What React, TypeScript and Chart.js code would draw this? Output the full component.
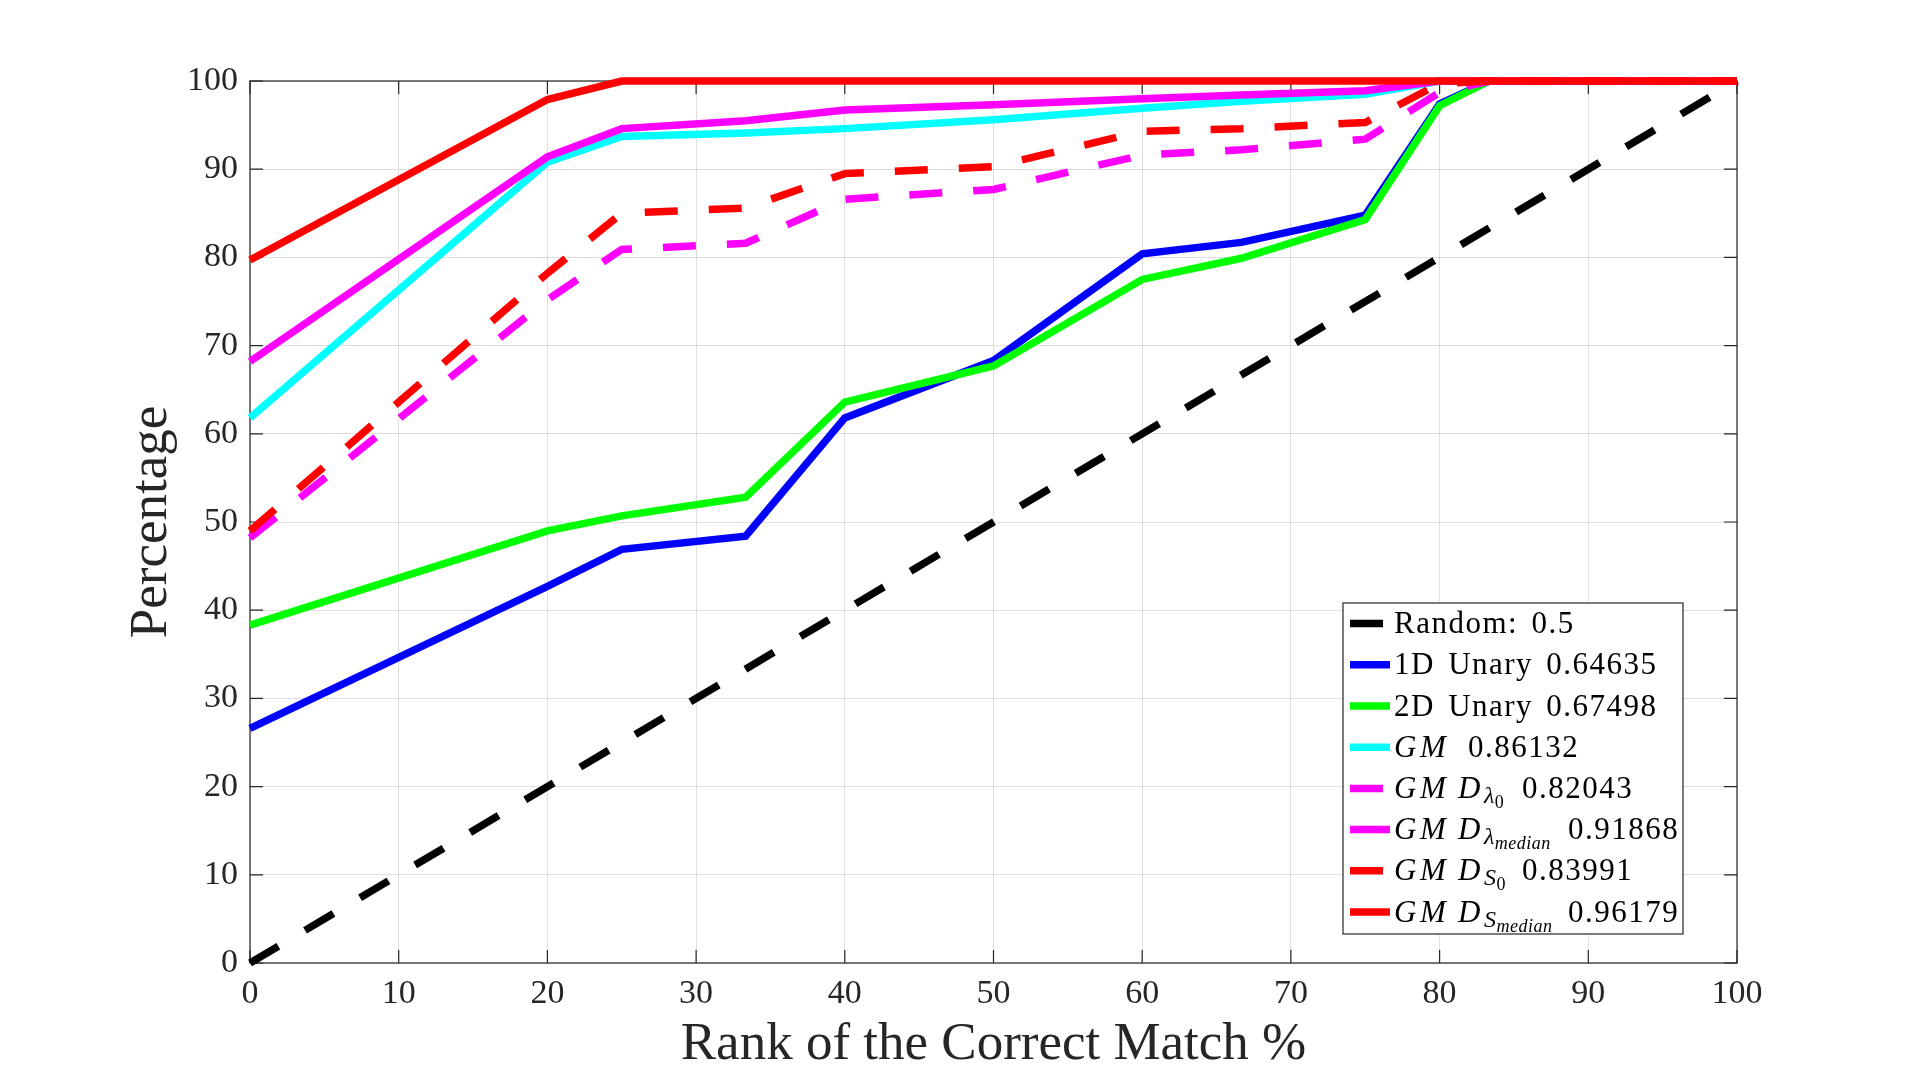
import React, { useEffect, useRef } from 'react';
import { Chart, registerables } from 'chart.js';

Chart.register(...registerables);

// ---------- data ----------
const xRank = [0, 20, 25, 33.33, 40, 50, 60, 66.67, 75, 80, 83.33, 100];
const randomX = [0, 100];
const randomY = [0, 100];
const unary1D = [26.6, 42.7, 46.9, 48.4, 61.8, 68.3, 80.4, 81.7, 84.8, 97.4, 100, 100];
const unary2D = [38.3, 49.0, 50.7, 52.8, 63.6, 67.7, 77.5, 79.9, 84.3, 97.2, 100, 100];
const gm = [61.8, 90.8, 93.7, 94.1, 94.6, 95.6, 96.9, 97.7, 98.5, 100, 100, 100];
const gmdLambda0 = [48.2, 75.2, 80.9, 81.6, 86.6, 87.7, 91.6, 92.2, 93.4, 98.7, 100, 100];
const gmdLambdaMedian = [68.2, 91.4, 94.6, 95.5, 96.7, 97.3, 98.0, 98.4, 98.9, 100, 100, 100];
const gmdS0 = [49.0, 78.2, 85.0, 85.6, 89.5, 90.3, 94.3, 94.6, 95.3, 99.7, 100, 100];
const gmdSMedian = [79.7, 97.9, 100, 100, 100, 100, 100, 100, 100, 100, 100, 100];

const xTickValues = [0, 10, 20, 30, 40, 50, 60, 70, 80, 90, 100];
const yTickValues = [0, 10, 20, 30, 40, 50, 60, 70, 80, 90, 100];

const xTitle = 'Rank of the Correct Match %';
const yTitle = 'Percentage';

// ---------- styles ----------
const FONT = '"Liberation Serif", "Times New Roman", Times, serif';
const AXIS_COLOR = '#262626';
const GRID_COLOR = 'rgba(38,38,38,0.15)';
const LINE_W = 7.5;
const DASH = [33, 31];

type Seg = { t: string; it?: boolean; lvl?: number; at?: number };

const series: { label: string; xs: number[]; ys: number[]; color: string; dash: number[]; legend: Seg[] }[] = [
  { label: 'Random: 0.5', xs: randomX, ys: randomY, color: '#000000', dash: DASH, legend: [{ t: 'Random: 0.5' }] },
  { label: '1D Unary 0.64635', xs: xRank, ys: unary1D, color: '#0000ff', dash: [], legend: [{ t: '1D Unary 0.64635' }] },
  { label: '2D Unary 0.67498', xs: xRank, ys: unary2D, color: '#00ff00', dash: [], legend: [{ t: '2D Unary 0.67498' }] },
  {
    label: 'GM 0.86132', xs: xRank, ys: gm, color: '#00ffff', dash: [],
    legend: [{ t: 'GM', it: true }, { t: '0.86132', at: 74 }],
  },
  {
    label: 'GMD λ0 0.82043', xs: xRank, ys: gmdLambda0, color: '#ff00ff', dash: DASH,
    legend: [{ t: 'GM', it: true }, { t: 'D', it: true, at: 64 }, { t: 'λ', it: true, lvl: 1 }, { t: '0', lvl: 2 }, { t: '0.82043', at: 128 }],
  },
  {
    label: 'GMD λmedian 0.91868', xs: xRank, ys: gmdLambdaMedian, color: '#ff00ff', dash: [],
    legend: [{ t: 'GM', it: true }, { t: 'D', it: true, at: 64 }, { t: 'λ', it: true, lvl: 1 }, { t: 'median', it: true, lvl: 2 }, { t: '0.91868', at: 174 }],
  },
  {
    label: 'GMD S0 0.83991', xs: xRank, ys: gmdS0, color: '#ff0000', dash: DASH,
    legend: [{ t: 'GM', it: true }, { t: 'D', it: true, at: 64 }, { t: 'S', it: true, lvl: 1 }, { t: '0', lvl: 2 }, { t: '0.83991', at: 128 }],
  },
  {
    label: 'GMD Smedian 0.96179', xs: xRank, ys: gmdSMedian, color: '#ff0000', dash: [],
    legend: [{ t: 'GM', it: true }, { t: 'D', it: true, at: 64 }, { t: 'S', it: true, lvl: 1 }, { t: 'median', it: true, lvl: 2 }, { t: '0.96179', at: 174 }],
  },
];

const TICK_LEN = 13;

const axesBoxPlugin = {
  id: 'axesBox',
  beforeDatasetsDraw(chart: any) {
    const { ctx, chartArea } = chart;
    const { left, right, top, bottom } = chartArea;
    const xs = chart.scales.x;
    const ys = chart.scales.y;
    ctx.save();
    ctx.strokeStyle = AXIS_COLOR;
    ctx.lineWidth = 1.2;
    ctx.setLineDash([]);
    ctx.beginPath();
    xs.ticks.forEach((t: any) => {
      const px = xs.getPixelForValue(t.value);
      ctx.moveTo(px, bottom);
      ctx.lineTo(px, bottom - TICK_LEN);
      ctx.moveTo(px, top);
      ctx.lineTo(px, top + TICK_LEN);
    });
    ys.ticks.forEach((t: any) => {
      const py = ys.getPixelForValue(t.value);
      ctx.moveTo(left, py);
      ctx.lineTo(left + TICK_LEN, py);
      ctx.moveTo(right, py);
      ctx.lineTo(right - TICK_LEN, py);
    });
    ctx.stroke();
    ctx.strokeRect(left, top, right - left, bottom - top);
    ctx.restore();
  },
};

const legendPlugin = {
  id: 'matlabLegend',
  afterDraw(chart: any) {
    const ctx = chart.ctx;
    const bx = 1343, by = 603, bw = 340, bh = 331;
    ctx.save();
    ctx.fillStyle = '#ffffff';
    ctx.fillRect(bx, by, bw, bh);
    ctx.strokeStyle = AXIS_COLOR;
    ctx.lineWidth = 1.2;
    ctx.setLineDash([]);
    ctx.strokeRect(bx, by, bw, bh);
    const rowH = 41.2;
    const textX = 1394;
    series.forEach((s, i) => {
      const yc = by + 20.6 + i * rowH;
      ctx.strokeStyle = s.color;
      ctx.lineWidth = LINE_W;
      ctx.lineCap = 'butt';
      ctx.setLineDash(s.dash);
      ctx.beginPath();
      ctx.moveTo(1350, yc);
      ctx.lineTo(1390, yc);
      ctx.stroke();
      ctx.setLineDash([]);
      const base = yc + 9.5;
      let cx = textX;
      ctx.fillStyle = '#000000';
      ctx.textBaseline = 'alphabetic';
      ctx.textAlign = 'left';
      s.legend.forEach((seg) => {
        const lvl = seg.lvl || 0;
        const size = lvl === 2 ? 18 : lvl === 1 ? 24 : 31;
        const dy = lvl === 2 ? 10 : lvl === 1 ? 5 : 0;
        ctx.font = `${seg.it ? 'italic ' : ''}${size}px ${FONT}`;
        (ctx as any).letterSpacing = lvl ? '0.5px' : seg.it ? '3.5px' : '1.5px';
        (ctx as any).wordSpacing = '4px';
        if (seg.at !== undefined) cx = textX + seg.at;
        ctx.fillText(seg.t, cx, base + dy);
        cx += ctx.measureText(seg.t).width;
      });
    });
    ctx.restore();
  },
};

export default function App() {
  const canvasRef = useRef<HTMLCanvasElement | null>(null);

  useEffect(() => {
    document.body.style.margin = '0';
    document.body.style.overflow = 'hidden';
    const canvas = canvasRef.current;
    if (!canvas) return;
    const n = series.length;
    const chart = new Chart(canvas, {
      type: 'line',
      data: {
        datasets: series.map((s, i) => ({
          label: s.label,
          data: s.xs.map((x, j) => ({ x, y: s.ys[j] })),
          borderColor: s.color,
          backgroundColor: s.color,
          borderWidth: LINE_W,
          borderDash: s.dash,
          borderCapStyle: 'butt',
          borderJoinStyle: 'miter',
          pointRadius: 0,
          pointHoverRadius: 0,
          tension: 0,
          fill: false,
          clip: false,
          order: n - 1 - i,
        })) as any,
      },
      options: {
        animation: false,
        responsive: false,
        devicePixelRatio: 1,
        events: [],
        layout: { padding: { top: 81, right: 183, left: 0, bottom: 0 } },
        plugins: {
          legend: { display: false },
          tooltip: { enabled: false },
        },
        scales: {
          x: {
            type: 'linear',
            min: 0,
            max: 100,
            afterBuildTicks: (scale: any) => {
              scale.ticks = xTickValues.map((v) => ({ value: v }));
            },
            afterFit: (scale: any) => {
              scale.height = 121;
            },
            grid: { color: GRID_COLOR, lineWidth: 1, drawTicks: false },
            border: { display: false },
            ticks: {
              padding: 11,
              color: AXIS_COLOR,
              font: { family: FONT, size: 34 },
              maxRotation: 0,
              autoSkip: false,
            },
            title: {
              display: true,
              text: xTitle,
              color: AXIS_COLOR,
              font: { family: FONT, size: 53 },
              padding: { top: 0, bottom: 7 },
            },
          },
          y: {
            type: 'linear',
            min: 0,
            max: 100,
            afterBuildTicks: (scale: any) => {
              scale.ticks = yTickValues.map((v) => ({ value: v }));
            },
            afterFit: (scale: any) => {
              scale.width = 250;
            },
            grid: { color: GRID_COLOR, lineWidth: 1, drawTicks: false },
            border: { display: false },
            ticks: {
              padding: 12,
              color: AXIS_COLOR,
              font: { family: FONT, size: 34 },
              autoSkip: false,
            },
            title: {
              display: true,
              text: yTitle,
              color: AXIS_COLOR,
              font: { family: FONT, size: 53 },
              padding: { top: 120, bottom: 0 },
            },
          },
        },
      } as any,
      plugins: [axesBoxPlugin, legendPlugin],
    });
    return () => chart.destroy();
  }, []);

  return (
    <div style={{ width: 1920, height: 1084, background: '#ffffff' }}>
      <canvas ref={canvasRef} width={1920} height={1084} style={{ display: 'block' }} />
    </div>
  );
}
